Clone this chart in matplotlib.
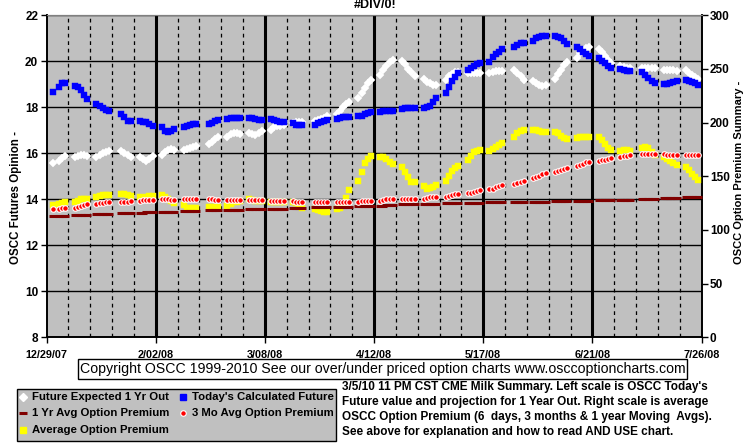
import pandas as pd
import matplotlib
matplotlib.use('Agg')
import matplotlib.pyplot as plt
from matplotlib.lines import Line2D
from matplotlib.patches import Rectangle

# ---------------- data ----------------
start_day = '2007-12-31'
end_day = '2008-07-25'
holidays = ['2008-01-01', '2008-01-21', '2008-02-18', '2008-03-21', '2008-05-26', '2008-07-04']
axis_start = '2007-12-29'
axis_end = '2008-07-26'

# Left scale (Futures Opinion)
future_expected_1yr = [
    15.59, 15.67, 15.78, 15.90,
    15.83, 15.88, 15.93, 15.93, 15.88,
    15.86, 15.93, 16.00, 16.07, 16.12,
    16.12, 16.03, 15.93, 15.84,
    15.86, 15.76, 15.68, 15.77, 15.89,
    15.93, 16.05, 16.14, 16.17, 16.14,
    16.13, 16.17, 16.23, 16.29, 16.31,
    16.41, 16.51, 16.61, 16.72,
    16.72, 16.83, 16.87, 16.87, 16.84,
    16.87, 16.84, 16.80, 16.87, 16.97,
    17.01, 17.13, 17.19, 17.19, 17.23,
    17.30, 17.38, 17.38, 17.35,
    17.40, 17.45, 17.48, 17.52, 17.60,
    17.72, 17.85, 18.00, 18.15, 18.25,
    18.42, 18.61, 18.85, 19.04, 19.19,
    19.41, 19.60, 19.80, 19.95, 20.05,
    20.03, 19.87, 19.68, 19.52, 19.38,
    19.25, 19.12, 19.04, 18.97, 18.97,
    19.19, 19.35, 19.45, 19.52, 19.52,
    19.50, 19.50, 19.48, 19.47, 19.47,
    19.51, 19.55, 19.57, 19.58, 19.58,
    19.62, 19.50, 19.35, 19.20,
    19.14, 19.05, 18.97, 18.92, 18.97,
    19.25, 19.43, 19.62, 19.84, 19.98,
    20.15, 20.35, 20.50, 20.57, 20.60,
    20.55, 20.40, 20.22, 20.05, 19.92,
    19.80, 19.75, 19.72, 19.70,
    19.72, 19.72, 19.72, 19.72, 19.72,
    19.62, 19.62, 19.62, 19.62, 19.59,
    19.60, 19.51, 19.41, 19.32, 19.22,
]

todays_calculated_future = [
    18.68, 18.87, 19.04, 19.04,
    18.94, 18.88, 18.75, 18.54, 18.34,
    18.13, 18.06, 17.97, 17.88, 17.86,
    17.71, 17.57, 17.42, 17.40,
    17.42, 17.37, 17.36, 17.26, 17.20,
    17.13, 16.99, 16.94, 16.97, 17.04,
    17.13, 17.19, 17.23, 17.26, 17.26,
    17.26, 17.30, 17.41, 17.45,
    17.48, 17.54, 17.55, 17.55, 17.55,
    17.55, 17.55, 17.48, 17.45, 17.45,
    17.48, 17.45, 17.39, 17.36, 17.36,
    17.30, 17.24, 17.24, 17.24,
    17.24, 17.30, 17.38, 17.42, 17.45,
    17.49, 17.55, 17.59, 17.59, 17.59,
    17.62, 17.64, 17.70, 17.77, 17.80,
    17.80, 17.82, 17.86, 17.86, 17.86,
    17.94, 17.97, 17.97, 17.97, 17.97,
    17.97, 18.00, 18.06, 18.25, 18.42,
    18.64, 18.90, 19.14, 19.33, 19.48,
    19.62, 19.72, 19.80, 19.87, 19.91,
    19.99, 20.17, 20.30, 20.42, 20.52,
    20.64, 20.71, 20.78, 20.81,
    20.90, 21.00, 21.07, 21.10, 21.10,
    21.10, 21.07, 21.00, 20.90, 20.75,
    20.64, 20.52, 20.42, 20.32, 20.23,
    20.13, 20.03, 19.91, 19.80, 19.72,
    19.68, 19.62, 19.59, 19.59,
    19.52, 19.41, 19.26, 19.14, 19.07,
    19.01, 19.00, 19.04, 19.10, 19.16,
    19.19, 19.14, 19.09, 19.04, 18.99,
]

# Right scale (Option Premium Summary)
avg_option_premium = [
    123.4, 124.3, 124.9, 125.6,
    125.6, 127.1, 128.6, 129.2, 129.2,
    130.7, 131.6, 132.2, 132.6, 132.6,
    133.9, 133.3, 132.2, 131.6,
    130.7, 130.1, 130.7, 131.6, 131.6,
    132.2, 131.1, 128.6, 127.1, 124.9,
    123.0, 120.9, 120.9, 120.9, 120.9,
    121.3, 121.3, 121.3, 121.3,
    122.4, 123.9, 125.6, 126.4, 127.1,
    128.6, 127.7, 127.1, 127.1, 127.1,
    126.4, 126.4, 126.4, 126.4, 126.4,
    126.0, 124.9, 123.0, 120.9,
    119.8, 118.7, 117.6, 117.2, 117.2,
    119.8, 120.9, 123.9, 130.1, 137.4,
    145.7, 154.1, 162.6, 166.5, 168.9,
    168.4, 168.4, 165.9, 163.7, 161.1,
    159.0, 154.3, 149.8, 145.1, 145.1,
    141.0, 137.8, 138.9, 140.4, 141.9,
    145.5, 150.0, 154.7, 158.1, 159.6,
    165.4, 169.3, 172.7, 174.0, 174.4,
    173.8, 175.3, 177.4, 179.6, 180.6,
    186.9, 190.7, 192.6, 192.9,
    193.1, 192.9, 192.2, 191.6, 191.6,
    191.6, 190.1, 187.9, 185.8, 184.9,
    185.4, 186.4, 186.9, 186.9, 186.4,
    186.4, 183.9, 180.4, 176.8, 174.2,
    173.6, 174.2, 174.2, 173.6,
    176.1, 177.0, 176.1, 172.9, 169.9,
    168.4, 166.3, 164.1, 162.4, 160.5,
    159.0, 156.0, 152.6, 149.4, 146.4,
]

mo3_avg_option_premium = [
    119.4, 119.8, 120.0, 120.4,
    120.9, 121.5, 122.4, 123.0, 123.9,
    123.9, 124.9, 124.9, 125.6, 125.6,
    125.6, 126.0, 126.0, 127.1,
    127.1, 127.7, 127.7, 127.9, 127.9,
    128.6, 128.6, 128.6, 127.9, 127.9,
    128.6, 128.6, 128.6, 128.6, 128.6,
    128.6, 128.6, 127.9, 127.9,
    127.7, 127.7, 127.7, 127.7, 127.7,
    127.7, 127.7, 127.7, 127.7, 127.7,
    127.1, 127.1, 127.1, 127.1, 127.1,
    127.1, 126.4, 126.4, 126.4,
    126.0, 125.6, 125.6, 125.6, 125.6,
    126.0, 126.0, 126.0, 126.0, 126.0,
    126.4, 127.1, 127.1, 127.1, 127.1,
    127.1, 127.7, 128.6, 128.6, 128.6,
    128.6, 129.2, 129.2, 129.2, 129.2,
    129.2, 129.9, 130.5, 130.5, 130.5,
    131.1, 131.6, 132.2, 133.3, 133.3,
    134.1, 134.8, 135.4, 136.3, 137.1,
    137.8, 138.4, 139.7, 140.8, 141.6,
    142.9, 144.0, 145.1, 145.9,
    148.1, 149.6, 150.6, 152.1, 153.4,
    154.3, 155.4, 156.0, 156.9, 158.1,
    159.6, 160.7, 161.8, 162.9, 162.9,
    163.9, 165.0, 165.4, 166.1, 166.9,
    168.0, 168.6, 169.3, 169.9,
    171.2, 170.8, 170.8, 170.8, 170.8,
    170.8, 170.1, 170.1, 169.7, 169.7,
    170.1, 170.1, 170.1, 170.1, 170.1,
]

yr1_avg_option_premium = [
    113.1, 113.1, 113.1, 113.1,
    114.0, 114.0, 114.0, 114.0, 114.0,
    115.3, 115.3, 115.3, 115.3, 115.3,
    116.1, 116.1, 116.1, 116.1,
    116.1, 116.1, 116.8, 116.8, 116.8,
    117.0, 117.0, 117.0, 117.0, 117.0,
    117.6, 117.6, 117.6, 117.6, 117.6,
    118.3, 118.3, 118.3, 118.3,
    118.7, 118.7, 118.7, 118.7, 118.7,
    119.4, 119.4, 119.4, 119.4, 119.4,
    119.8, 119.8, 119.8, 119.8, 119.8,
    120.4, 120.4, 120.4, 120.4,
    121.1, 121.1, 121.1, 121.1, 121.1,
    121.7, 121.7, 121.7, 121.7, 121.7,
    122.4, 122.4, 122.4, 122.4, 122.4,
    122.4, 122.4, 123.0, 123.0, 123.0,
    123.9, 123.9, 123.9, 123.9, 123.9,
    124.3, 124.3, 124.3, 124.3, 124.3,
    124.9, 124.9, 124.9, 124.9, 124.9,
    124.9, 124.9, 125.2, 125.2, 125.2,
    125.6, 125.6, 126.0, 126.0, 126.0,
    126.0, 126.0, 126.0, 126.0,
    126.4, 126.4, 126.4, 126.4, 126.4,
    127.1, 127.1, 127.1, 127.1, 127.1,
    127.3, 127.3, 127.3, 127.3, 127.3,
    127.7, 127.7, 127.7, 127.7, 127.7,
    127.9, 127.9, 127.9, 127.9,
    128.6, 128.6, 128.6, 128.6, 128.6,
    129.4, 129.4, 129.4, 129.4, 129.4,
    130.9, 130.9, 130.9, 130.9, 130.9,
]

series_labels = ["Future Expected 1 Yr Out", "Today's Calculated Future",
                 "1 Yr Avg Option Premium", "3 Mo Avg Option Premium",
                 "Average Option Premium"]

title_text = "#DIV/0!"
left_label = "OSCC Futures Opinion -"
right_label = "OSCC Option Premium Summary -"
copyright_text = "Copyright OSCC 1999-2010 See our over/under priced option charts www.osccoptioncharts.com"
note_lines = [
    "3/5/10 11 PM CST CME Milk Summary. Left scale is OSCC Today's",
    "Future value and projection for 1 Year Out. Right scale is average",
    "OSCC Option Premium (6  days, 3 months & 1 year Moving  Avgs).",
    "See above for explanation and how to read AND USE chart.",
]

# ---------------- figure ----------------
W, H = 755, 446
plt.rcParams['font.family'] = ['Liberation Sans', 'DejaVu Sans']


def fx(x):
    return x / W


def fy(y):
    return 1 - y / H


dates = pd.bdate_range(start_day, end_day)
dates = dates[~dates.isin(pd.to_datetime(holidays))]

fig = plt.figure(figsize=(W / 100, H / 100), dpi=100)
fig.patch.set_facecolor('white')
L, R, T, B = 46.5, 701.5, 15.3, 337.3
ax = fig.add_axes([fx(L), fy(B), fx(R) - fx(L), fy(T) - fy(B)])
ax.set_facecolor('#C0C0C0')

x0, x1 = pd.Timestamp(axis_start), pd.Timestamp(axis_end)
ax.set_xlim(x0, x1)
ax.set_ylim(8, 22)
ax.set_yticks(range(8, 23, 2))
ax.yaxis.grid(True, color='black', lw=1.0, zorder=0)
ax.set_axisbelow(True)

weeks = pd.date_range(x0, x1, freq='7D')
majors = pd.date_range(x0, x1, freq='35D')
for d in weeks:
    if d in majors:
        continue
    ax.axvline(d, color='black', lw=0.9, ls=(0, (3, 3)), zorder=0.5)
for d in majors[1:-1]:
    ax.axvline(d, color='black', lw=2.2, zorder=0.6)

ax.set_xticks(majors)
ax.set_xticklabels([f"{d.month}/{d.day:02d}/{d:%y}" for d in majors],
                   fontsize=7.8, fontweight='bold')
ax.tick_params(axis='x', length=4, width=1, pad=5.5, direction='out')
ax.tick_params(axis='y', length=4, width=1, labelsize=8.5, pad=2, direction='out')
for lab in ax.get_yticklabels():
    lab.set_fontweight('bold')

for s in ['left', 'bottom', 'right']:
    ax.spines[s].set_color('black')
    ax.spines[s].set_linewidth(1.2)
ax.spines['top'].set_color('#808080')

ax.plot(dates, future_expected_1yr, ls='none', marker='D', ms=3.9,
        mfc='white', mec='white', mew=0.3, zorder=3)
ax.plot(dates, todays_calculated_future, ls='none', marker='s', ms=4.4,
        mfc='#0000FF', mec='#0000FF', mew=0.3, zorder=4)

ax2 = ax.twinx()
ax2.set_ylim(0, 300)
ax2.set_yticks(range(0, 301, 50))
ax2.tick_params(axis='y', length=4, width=1, labelsize=8.5, pad=2, direction='out')
for lab in ax2.get_yticklabels():
    lab.set_fontweight('bold')
for s in ['left', 'bottom', 'right']:
    ax2.spines[s].set_color('black')
    ax2.spines[s].set_linewidth(1.2)
ax2.spines['top'].set_color('#808080')

ax2.plot(dates, avg_option_premium, ls='none', marker='s', ms=5.0,
         mfc='#FFFF00', mec='#FFFF00', mew=0.3, zorder=3)
ax2.plot(dates, yr1_avg_option_premium, ls='none', marker='_', ms=6,
         mew=2.2, color='#800000', zorder=4)
ax2.plot(dates, mo3_avg_option_premium, ls='none', marker='o', ms=4.0,
         mfc='#FF0000', mec='white', mew=0.8, zorder=5)

# axis titles and title
fig.text(fx(16), fy(197), left_label, rotation=90, ha='center', va='center',
         fontsize=8.3, fontweight='bold')
fig.text(fx(739), fy(172), right_label, rotation=90, ha='center', va='center',
         fontsize=8.0, fontweight='bold')
fig.text(fx(375), fy(8), title_text, ha='center', va='baseline',
         fontsize=9, fontweight='bold')

# copyright box
fig.add_artist(Rectangle((fx(78.3), fy(379.3)), fx(686.7) - fx(78.3), fy(359.3) - fy(379.3),
                         transform=fig.transFigure, facecolor='white', edgecolor='black', lw=1))
fig.text(fx(382.5), fy(369.5), copyright_text, ha='center', va='center', fontsize=10.2)

# legend box
fig.add_artist(Rectangle((fx(17.3), fy(440.7)), fx(336) - fx(17.3), fy(389) - fy(440.7),
                         transform=fig.transFigure, facecolor='#C0C0C0', edgecolor='black', lw=1))
leg_items = [
    (22.7, 397.3, dict(marker='D', ms=3.6, mfc='white', mec='white'), series_labels[0]),
    (183.3, 397.3, dict(marker='s', ms=4.0, mfc='#0000FF', mec='#0000FF'), series_labels[1]),
    (22.7, 413.3, dict(marker='_', ms=6, mew=2.2, color='#800000'), series_labels[2]),
    (183.3, 413.3, dict(marker='o', ms=4.0, mfc='#FF0000', mec='white', mew=0.8), series_labels[3]),
    (22.7, 430.0, dict(marker='s', ms=4.6, mfc='#FFFF00', mec='#FFFF00'), series_labels[4]),
]
for mx, my, style, lab in leg_items:
    fig.add_artist(Line2D([fx(mx)], [fy(my)], ls='none', transform=fig.transFigure, **style))
    fig.text(fx(mx + 9), fy(my), lab, ha='left', va='center', fontsize=8.2,
             fontweight='bold')

# note text
for i, line in enumerate(note_lines):
    fig.text(fx(342.3), fy(386.7 + 15 * i), line, ha='left', va='center',
             fontsize=8.5, fontweight='bold')

fig.savefig('out.png', dpi=100)
